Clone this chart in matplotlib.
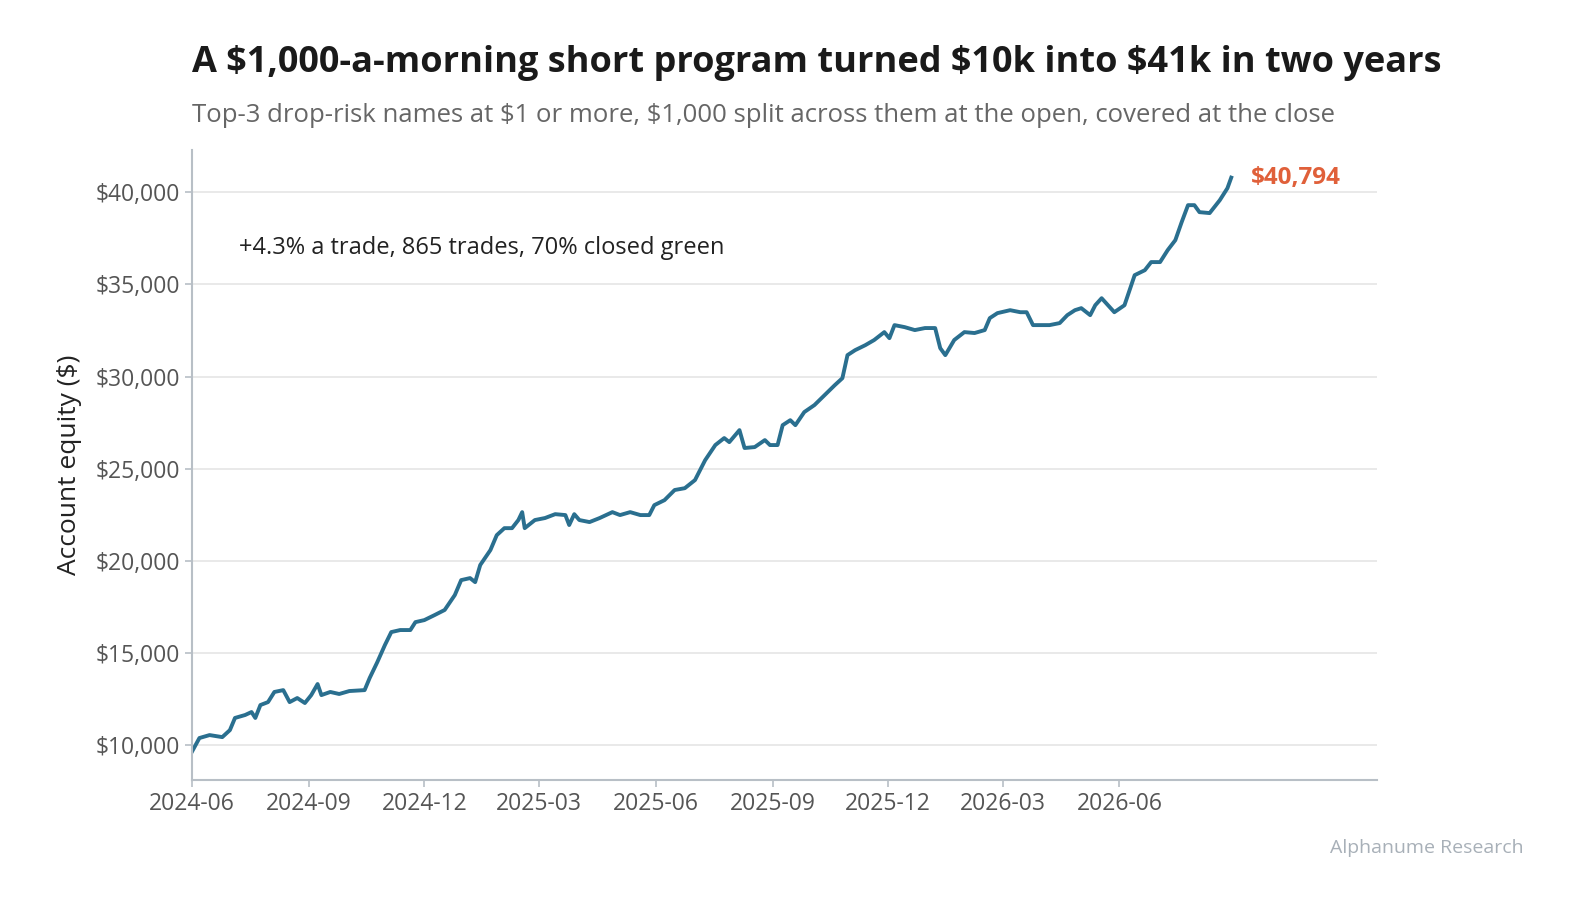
import matplotlib
matplotlib.use("Agg")
import matplotlib.pyplot as plt
import matplotlib.dates as mdates
import numpy as np
import pandas as pd

start = pd.Timestamp("2024-06-01")
day_offsets = [0,6,14,24,30,34,42,47,50,54,60,65,72,77,83,89,94,99,102,109,116,124,136,140,146,152,157,164,172,176,183,191,199,207,212,219,223,227,235,240,246,252,257,260,262,270,278,286,294,297,301,305,313,321,331,337,345,353,360,364,372,380,388,396,404,412,419,423,431,435,443,451,455,461,465,471,475,482,490,498,506,512,516,522,530,537,545,549,553,561,569,577,585,589,593,600,608,616,624,628,634,644,652,657,662,667,675,683,689,695,700,707,711,716,721,726,734,738,742,750,755,762,768,774,779,784,789,793,801,809,815,818]
equity = [9620,10380,10540,10430,10810,11470,11630,11790,11470,12170,12330,12880,12980,12330,12550,12280,12710,13310,12710,12880,12770,12930,12980,13640,14500,15430,16130,16240,16240,16670,16780,17050,17330,18140,18950,19060,18840,19770,20580,21390,21770,21770,22210,22640,21770,22210,22320,22530,22480,21940,22530,22210,22100,22320,22640,22480,22640,22480,22480,23020,23290,23840,23940,24380,25460,26280,26660,26440,27090,26120,26170,26550,26280,26280,27360,27630,27360,28070,28450,28990,29530,29910,31160,31430,31700,31980,32410,32080,32790,32680,32520,32630,32630,31540,31160,31980,32410,32360,32520,33170,33440,33600,33490,33490,32790,32790,32790,32900,33330,33600,33710,33330,33870,34250,33870,33490,33870,34690,35500,35770,36210,36210,36860,37400,38380,39300,39300,38920,38870,39570,40220,40794]
tick_labels = ["2024-06","2024-09","2024-12","2025-03","2025-06","2025-09","2025-12","2026-03","2026-06"]
dates = [start + pd.Timedelta(days=d) for d in day_offsets]

plt.rcParams['font.family'] = ['Open Sans', 'DejaVu Sans']
fig = plt.figure(figsize=(15.85, 9.15), dpi=100)
ax = fig.add_axes([0.121, 0.1475, 0.748, 0.6885])

ax.plot(dates, equity, color="#2a6f8f", lw=2.8, solid_joinstyle="round")
ax.set_xlim(start, start + pd.Timedelta(days=933))
ax.set_ylim(8100, 42290)
ax.set_yticks([10000,15000,20000,25000,30000,35000,40000])
ax.yaxis.set_major_formatter(matplotlib.ticker.FuncFormatter(lambda v, p: f"${v:,.0f}"))
ax.set_xticks([pd.Timestamp(t + "-01") for t in tick_labels])
ax.set_xticklabels(tick_labels)
ax.grid(axis="y", color="#e3e3e3", lw=1.1)
ax.set_axisbelow(True)
for s in ["top", "right"]:
    ax.spines[s].set_visible(False)
for s in ["left", "bottom"]:
    ax.spines[s].set_color("#b8bfc6")
    ax.spines[s].set_linewidth(1.5)
ax.tick_params(axis="both", labelsize=16.5, colors="#555555", length=5, width=1.2)
ax.tick_params(axis="both", color="#b8bfc6")
ax.set_ylabel("Account equity ($)", fontsize=19, color="#222222", labelpad=10)

ax.annotate(f"${equity[-1]:,}", xy=(dates[-1], equity[-1]), xytext=(14, 0),
            textcoords="offset points", color="#e0603a", fontsize=17.5, fontweight="bold",
            va="center", ha="left")
ax.text(0.04, 0.845, "+4.3% a trade, 865 trades, 70% closed green", transform=ax.transAxes,
        fontsize=17, color="#222222", va="center")

fig.text(0.121, 0.931, "A \\$1,000-a-morning short program turned \\$10k into \\$41k in two years",
         fontsize=26, fontweight="bold", color="#1a1a1a", va="center")
fig.text(0.121, 0.874, "Top-3 drop-risk names at \\$1 or more, \\$1,000 split across them at the open, covered at the close",
         fontsize=18.5, color="#666666", va="center")
fig.text(0.961, 0.073, "Alphanume Research", fontsize=14, color="#a8b0b8", ha="right", va="center")

fig.savefig("out.png", dpi=100)
